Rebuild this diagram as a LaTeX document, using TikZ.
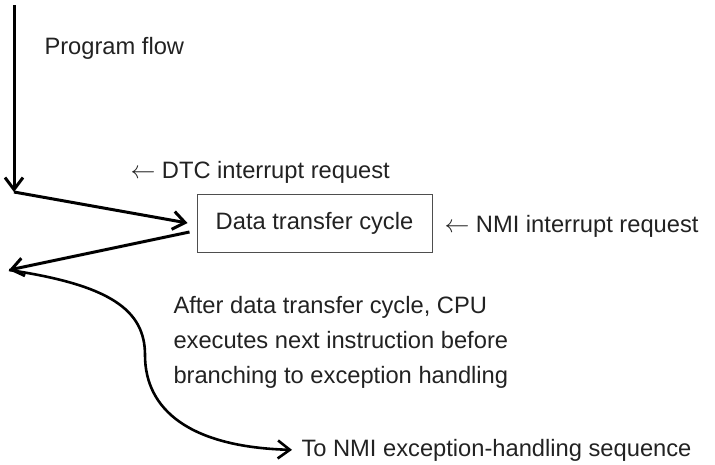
\documentclass[tikz,border=0pt]{standalone}
\usepackage{fontspec}
\setmainfont{Liberation Sans}
\usetikzlibrary{arrows.meta}
\definecolor{ink}{HTML}{222222}

\begin{document}
\begin{tikzpicture}[x=1pt,y=-1pt,line width=3pt,
  >={Straight Barb[length=12pt,width=18pt]},
  font=\fontsize{23.7}{35}\selectfont,
  lbl/.style={anchor=base west,inner sep=0pt,text=ink}]
\useasboundingbox (0,0) rectangle (715,464);
\node[lbl] (flow) at (43,54) {Program flow};
\node[lbl] (dtc) at (129,178) {$\leftarrow$ DTC interrupt request};
\node[draw=ink!80,line width=1pt,minimum width=235pt,minimum height=58pt,text=ink,inner sep=0pt] (cycle) at (314.5,223) {Data transfer cycle};
\node[lbl] (nmi) at (443,232) {$\leftarrow$ NMI interrupt request};
\node[lbl,align=left] (after) at (172,383) {After data transfer cycle, CPU\\executes next instruction before\\branching to exception handling};
\node[lbl] (tonmi) at (300,456) {To NMI exception-handling sequence};
\coordinate (top) at (14,5);
\coordinate (corner) at (14,192);
\coordinate (back) at (9,270);
\draw[->] (top) -- (corner);
\draw[->] (corner) -- ([xshift=-9pt]cycle.west);
\draw[->] ([xshift=-7pt,yshift=-9pt]cycle.west) -- (back);
\draw[->,line width=2.6pt] (back) .. controls (110,285) and (145,310) .. (145,355) .. controls (145,410) and (190,447) .. ([xshift=-8pt]tonmi.west);
\end{tikzpicture}
\end{document}
